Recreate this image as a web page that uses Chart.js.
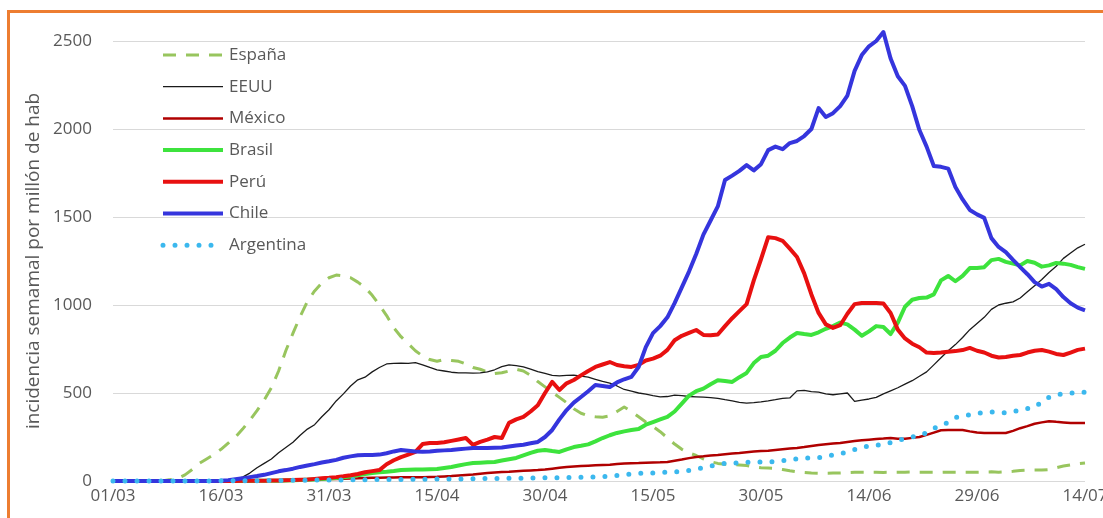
<!DOCTYPE html>
<html lang="es">
<head>
<meta charset="utf-8">
<title>Incidencia semanal</title>
<script src="https://cdn.jsdelivr.net/npm/chart.js@4.4.1/dist/chart.umd.min.js"></script>
<style>
  html,
  body {
    margin: 0;
    padding: 0;
    width: 1103px;
    height: 518px;
    overflow: hidden;
    background: #ffffff;
  }
  .frame {
    position: absolute;
    left: 7px;
    top: 10px;
    width: 1200px;
    height: 600px;
    border: 3px solid #ed7d31;
    box-sizing: border-box;
  }
  .wrap {
    position: absolute;
    left: 0;
    top: 0;
    width: 1125px;
    height: 518px;
  }
</style>
</head>
<body>
<div class="frame"></div>
<div class="wrap"><canvas id="chart"></canvas></div>

<script>
// one value per day, 01/03 to 14/07
const espana = [
  0, 0, 0, 0, 0, 0, 0, 2,
  8, 15, 35, 65, 100, 125, 150, 180,
  215, 250, 295, 345, 400, 460, 530, 625,
  740, 840, 935, 1020, 1080, 1125, 1155, 1170,
  1165, 1155, 1130, 1100, 1055, 1000, 940, 870,
  820, 780, 740, 710, 690, 680, 690, 685,
  680, 665, 645, 635, 620, 610, 615, 625,
  635, 625, 600, 565, 535, 505, 475, 445,
  410, 385, 370, 365, 362, 370, 395, 420,
  395, 365, 335, 310, 280, 245, 210, 180,
  160, 145, 125, 110, 100, 95, 93, 91,
  88, 80, 75, 74, 72, 65, 58, 52,
  48, 45, 44, 44, 45, 46, 48, 50,
  50, 50, 50, 49, 50, 50, 50, 51,
  50, 50, 50, 49, 50, 50, 50, 50,
  50, 51, 52, 50, 52, 55, 60, 62,
  62, 62, 65, 75, 85, 92, 98, 102,
];

const eeuu = [
  0, 0, 0, 0, 0, 0, 0, 0,
  0, 0, 1, 1, 2, 3, 4, 5,
  7, 12, 22, 45, 75, 100, 125, 160,
  190, 220, 260, 295, 320, 365, 405, 455,
  495, 540, 575, 590, 620, 645, 665, 668,
  670, 668, 672, 660, 645, 632, 625, 618,
  614, 614, 613, 614, 620, 632, 650, 660,
  655, 648, 635, 622, 612, 600, 597, 600,
  602, 596, 590, 578, 566, 556, 540, 520,
  510, 500, 493, 485, 478, 480, 488, 485,
  480, 478, 476, 474, 470, 462, 455, 447,
  443, 445, 449, 455, 462, 470, 472, 512,
  515, 508, 505, 495, 490, 495, 500, 452,
  460, 466, 475, 495, 512, 530, 550, 570,
  595, 620, 660, 700, 740, 775, 815, 860,
  895, 930, 975, 1000, 1010, 1018, 1040, 1075,
  1110, 1145, 1185, 1220, 1265, 1295, 1325, 1345,
];

const mexico = [
  0, 0, 0, 0, 0, 0, 0, 0,
  0, 0, 0, 0, 0, 0, 0, 1,
  1, 1, 2, 2, 2, 3, 3, 4,
  5, 6, 7, 8, 9, 10, 11, 12,
  13, 14, 15, 17, 18, 19, 20, 20,
  21, 21, 22, 22, 23, 24, 26, 28,
  31, 34, 37, 41, 45, 48, 51, 53,
  56, 58, 60, 62, 65, 70, 75, 80,
  83, 85, 87, 89, 91, 93, 96, 99,
  101, 102, 104, 105, 106, 108, 115, 122,
  130, 136, 140, 145, 148, 152, 156, 159,
  163, 167, 170, 172, 176, 180, 184, 188,
  193, 199, 205, 209, 213, 216, 222, 227,
  231, 235, 239, 241, 244, 240, 240, 245,
  250, 262, 275, 288, 290, 290, 290, 282,
  275, 273, 273, 273, 273, 285, 300, 312,
  325, 333, 340, 336, 333, 330, 330, 330,
];

const brasil = [
  0, 0, 0, 0, 0, 0, 0, 0,
  0, 0, 0, 0, 0, 0, 0, 0,
  0, 0, 0, 0, 1, 1, 2, 2,
  3, 4, 5, 7, 9, 11, 14, 17,
  21, 26, 32, 40, 46, 50, 53, 57,
  62, 64, 65, 66, 67, 68, 74, 80,
  88, 96, 102, 104, 106, 108, 116, 124,
  131, 145, 160, 172, 176, 170, 165, 180,
  193, 200, 208, 225, 244, 260, 273, 282,
  290, 295, 320, 335, 350, 364, 395, 440,
  485, 510, 525, 550, 572, 568, 563, 590,
  614, 670, 705, 712, 740, 784, 815, 841,
  835, 830, 845, 865, 880, 900, 890, 860,
  825, 850, 880, 875, 835, 900, 990, 1030,
  1040, 1042, 1060, 1140, 1165, 1135, 1165, 1210,
  1210, 1215, 1255, 1262, 1245, 1235, 1225, 1250,
  1240, 1218, 1225, 1239, 1235, 1228, 1215, 1205,
];

const peru = [
  0, 0, 0, 0, 0, 0, 0, 0,
  0, 0, 0, 0, 0, 0, 0, 0,
  0, 0, 1, 1, 2, 2, 3, 3,
  4, 5, 7, 9, 12, 15, 18, 22,
  27, 33, 40, 50, 56, 62, 95, 118,
  136, 150, 165, 210, 216, 216, 220, 228,
  236, 244, 205, 222, 235, 250, 244, 330,
  350, 364, 395, 430, 500, 563, 517, 555,
  574, 600, 625, 648, 662, 676, 659, 652,
  648, 660, 685, 695, 712, 745, 800, 825,
  841, 858, 830, 828, 832, 880, 925, 965,
  1005, 1140, 1260, 1385, 1380, 1365, 1320, 1273,
  1180, 1060, 955, 890, 870, 885, 950, 1005,
  1011, 1011, 1011, 1008, 955, 860, 810, 780,
  760, 730, 727, 730, 735, 738, 744, 756,
  740, 730, 712, 702, 705, 712, 716, 730,
  740, 744, 735, 722, 716, 730, 745, 752,
];

const chile = [
  0, 0, 0, 0, 0, 0, 0, 0,
  0, 0, 0, 0, 0, 0, 0, 2,
  5, 10, 15, 22, 28, 35, 45, 55,
  62, 70, 80, 88, 96, 105, 112, 120,
  132, 140, 146, 148, 148, 150, 158, 168,
  176, 172, 168, 166, 168, 172, 174, 176,
  180, 184, 188, 188, 188, 189, 190, 196,
  202, 206, 214, 222, 250, 290, 350, 403,
  445, 477, 510, 545, 540, 534, 560, 578,
  592, 648, 761, 840, 880, 930, 1011, 1100,
  1190, 1290, 1400, 1480, 1560, 1710, 1735, 1762,
  1795, 1765, 1800, 1880, 1900, 1885, 1920, 1932,
  1960, 2000, 2119, 2068, 2090, 2130, 2190, 2330,
  2420, 2470, 2500, 2551, 2400, 2300, 2245, 2130,
  1994, 1900, 1790, 1785, 1775, 1670, 1600, 1540,
  1515, 1495, 1380, 1330, 1300, 1256, 1215, 1175,
  1130, 1105, 1120, 1090, 1045, 1010, 985, 970,
];

const argentina = [
  0, 0, 0, 0, 0, 0, 0, 0,
  0, 0, 0, 0, 0, 0, 0, 1,
  1, 1, 2, 2, 2, 3, 3, 3,
  4, 4, 4, 5, 5, 5, 6, 6,
  6, 7, 7, 7, 8, 8, 8, 9,
  9, 9, 10, 10, 10, 11, 11, 11,
  12, 12, 13, 13, 14, 14, 15, 15,
  16, 16, 17, 17, 18, 18, 19, 19,
  20, 21, 22, 23, 25, 28, 32, 36,
  40, 43, 45, 46, 48, 50, 52, 55,
  60, 68, 76, 85, 92, 100, 102, 103,
  106, 108, 108, 108, 110, 115, 120, 126,
  131, 131, 132, 140, 148, 155, 165, 178,
  190, 199, 203, 208, 218, 230, 240, 250,
  258, 275, 300, 312, 335, 360, 370, 376,
  384, 388, 392, 390, 387, 395, 403, 412,
  420, 450, 475, 489, 496, 500, 502, 505,
];

// dates dd/mm for every day of the series
const days = [];
for (let i = 0; i < espana.length; i++) {
  const d = new Date(2020, 2, 1 + i);
  const dd = String(d.getDate()).padStart(2, "0");
  const mm = String(d.getMonth() + 1).padStart(2, "0");
  days.push(dd + "/" + mm);
}

const textColor = "#595959";
const fontFamily = "'Open Sans', sans-serif";

const series = [
  { label: "España", data: espana, color: "#98c55e", width: 3, dash: [13, 10], cap: "butt" },
  { label: "EEUU", data: eeuu, color: "#1a1a1a", width: 1.3, dash: [], cap: "butt" },
  { label: "México", data: mexico, color: "#b00000", width: 2.5, dash: [], cap: "butt" },
  { label: "Brasil", data: brasil, color: "#3de33d", width: 4, dash: [], cap: "butt" },
  { label: "Perú", data: peru, color: "#e81010", width: 4, dash: [], cap: "butt" },
  { label: "Chile", data: chile, color: "#3535dd", width: 4, dash: [], cap: "butt" },
  { label: "Argentina", data: argentina, color: "#3bb8ee", width: 5, dash: [0, 12], cap: "round" },
];

// legend drawn inside the plot, top left, like the excel one
const innerLegend = {
  id: "innerLegend",
  afterDraw(chart) {
    const { ctx, chartArea } = chart;
    ctx.save();
    chart.data.datasets.forEach((ds, i) => {
      const y = chartArea.top + 14 + i * 31.7;
      const x0 = chartArea.left + 50;

      ctx.beginPath();
      ctx.strokeStyle = ds.borderColor;
      ctx.lineWidth = ds.borderWidth;
      ctx.lineCap = ds.borderCapStyle;
      ctx.setLineDash(ds.borderDash);
      ctx.moveTo(x0, y);
      ctx.lineTo(x0 + 60, y);
      ctx.stroke();

      ctx.setLineDash([]);
      ctx.fillStyle = textColor;
      ctx.font = "17px " + fontFamily;
      ctx.textBaseline = "middle";
      ctx.textAlign = "left";
      ctx.fillText(ds.label, x0 + 66, y);
    });
    ctx.restore();
  },
};

new Chart(document.getElementById("chart"), {
  type: "line",
  plugins: [innerLegend],
  data: {
    labels: days,
    datasets: series.map((s, i) => ({
      label: s.label,
      data: s.data,
      borderColor: s.color,
      backgroundColor: s.color,
      borderWidth: s.width,
      borderDash: s.dash,
      borderCapStyle: s.cap,
      borderJoinStyle: "round",
      pointRadius: 0,
      tension: 0,
      fill: false,
      clip: false,
      order: series.length - i,
    })),
  },
  options: {
    responsive: true,
    maintainAspectRatio: false,
    animation: false,
    layout: { padding: { left: 0, right: 40, top: 41, bottom: 0 } },
    plugins: {
      legend: { display: false },
      tooltip: { enabled: false },
    },
    scales: {
      x: {
        offset: false,
        grid: { display: false, drawTicks: false },
        border: { display: false },
        ticks: {
          autoSkip: false,
          maxRotation: 0,
          minRotation: 0,
          padding: 5,
          color: textColor,
          font: { size: 17, family: fontFamily },
          callback: function (value, index) {
            return index % 15 === 0 ? this.getLabelForValue(value) : null;
          },
        },
        afterFit: (scale) => {
          scale.height = 37;
        },
      },
      y: {
        min: 0,
        max: 2500,
        grid: { color: "#d9d9d9", drawTicks: false },
        border: { display: false },
        ticks: {
          stepSize: 500,
          padding: 21,
          color: textColor,
          font: { size: 17, family: fontFamily },
          callback: (v) => String(v),
        },
        title: {
          display: true,
          text: "incidencia semamal por millón de hab",
          color: textColor,
          font: { size: 19, family: fontFamily },
          padding: { top: 22, bottom: 0 },
        },
        afterFit: (scale) => {
          scale.width = 113;
        },
      },
    },
  },
});
</script>
</body>
</html>
